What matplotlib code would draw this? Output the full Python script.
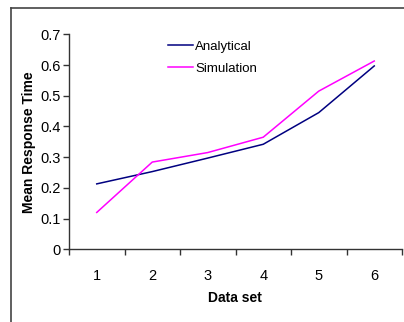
import matplotlib
matplotlib.use("Agg")
import matplotlib.pyplot as plt
from matplotlib.lines import Line2D

# data
data_sets = [1, 2, 3, 4, 5, 6]
analytical = [0.213, 0.253, 0.297, 0.342, 0.445, 0.597]
simulation = [0.120, 0.284, 0.315, 0.365, 0.515, 0.613]
y_ticks = [0, 0.1, 0.2, 0.3, 0.4, 0.5, 0.6, 0.7]
y_tick_labels = ["0", "0.1", "0.2", "0.3", "0.4", "0.5", "0.6", "0.7"]

plt.rcParams["font.family"] = ["Liberation Sans", "DejaVu Sans"]

W, H = 404, 322
fig = plt.figure(figsize=(W / 100, H / 100), dpi=100)

# outer chart frame (cut off on the right and bottom)
fig.add_artist(Line2D([10.5 / W, 10.5 / W], [0, 1 - 7.5 / H], transform=fig.transFigure,
                      color="#444444", lw=1.2))
fig.add_artist(Line2D([10.5 / W, 1], [1 - 7.5 / H, 1 - 7.5 / H], transform=fig.transFigure,
                      color="#444444", lw=1.2))

ax = fig.add_axes([69 / W, 1 - 249.3 / H, (402 - 69) / W, (249.3 - 34.3) / H])

ax.plot(data_sets, analytical, color="#000080", lw=1.1, label="Analytical")
ax.plot(data_sets, simulation, color="#FF00FF", lw=1.1, label="Simulation")

ax.set_xlim(0.5, 6.5)
ax.set_ylim(0, 0.7)

# category axis: tick marks between categories, labels on categories
ax.set_xticks([x - 0.5 for x in data_sets] + [6.5])
ax.set_xticklabels([])
ax.set_xticks(data_sets, minor=True)
ax.set_xticklabels([str(d) for d in data_sets], minor=True)
ax.tick_params(axis="x", which="major", direction="out", length=4, width=1, color="#333333")
ax.tick_params(axis="x", which="minor", length=0, pad=14, labelsize=10.5)

ax.set_yticks(y_ticks)
ax.set_yticklabels(y_tick_labels)
ax.tick_params(axis="y", direction="out", length=4, width=1, color="#333333", pad=2, labelsize=10.5)

for side in ["top", "right"]:
    ax.spines[side].set_visible(False)
for side in ["left", "bottom"]:
    ax.spines[side].set_color("#333333")
    ax.spines[side].set_linewidth(1)

ax.set_xlabel("Data set", fontsize=10, fontweight="bold")
ax.set_ylabel("Mean Response Time", fontsize=10, fontweight="bold")
ax.xaxis.set_label_coords(0.4985, -0.194)
ax.yaxis.set_label_coords(-0.098, 0.5)

ax.legend(loc="upper left", bbox_to_anchor=(0.297, 0.972), frameon=False, fontsize=9.5,
          borderpad=0, borderaxespad=0, handlelength=1.9, handletextpad=0.15,
          labelspacing=0.75)

fig.savefig("out.png", dpi=100)
